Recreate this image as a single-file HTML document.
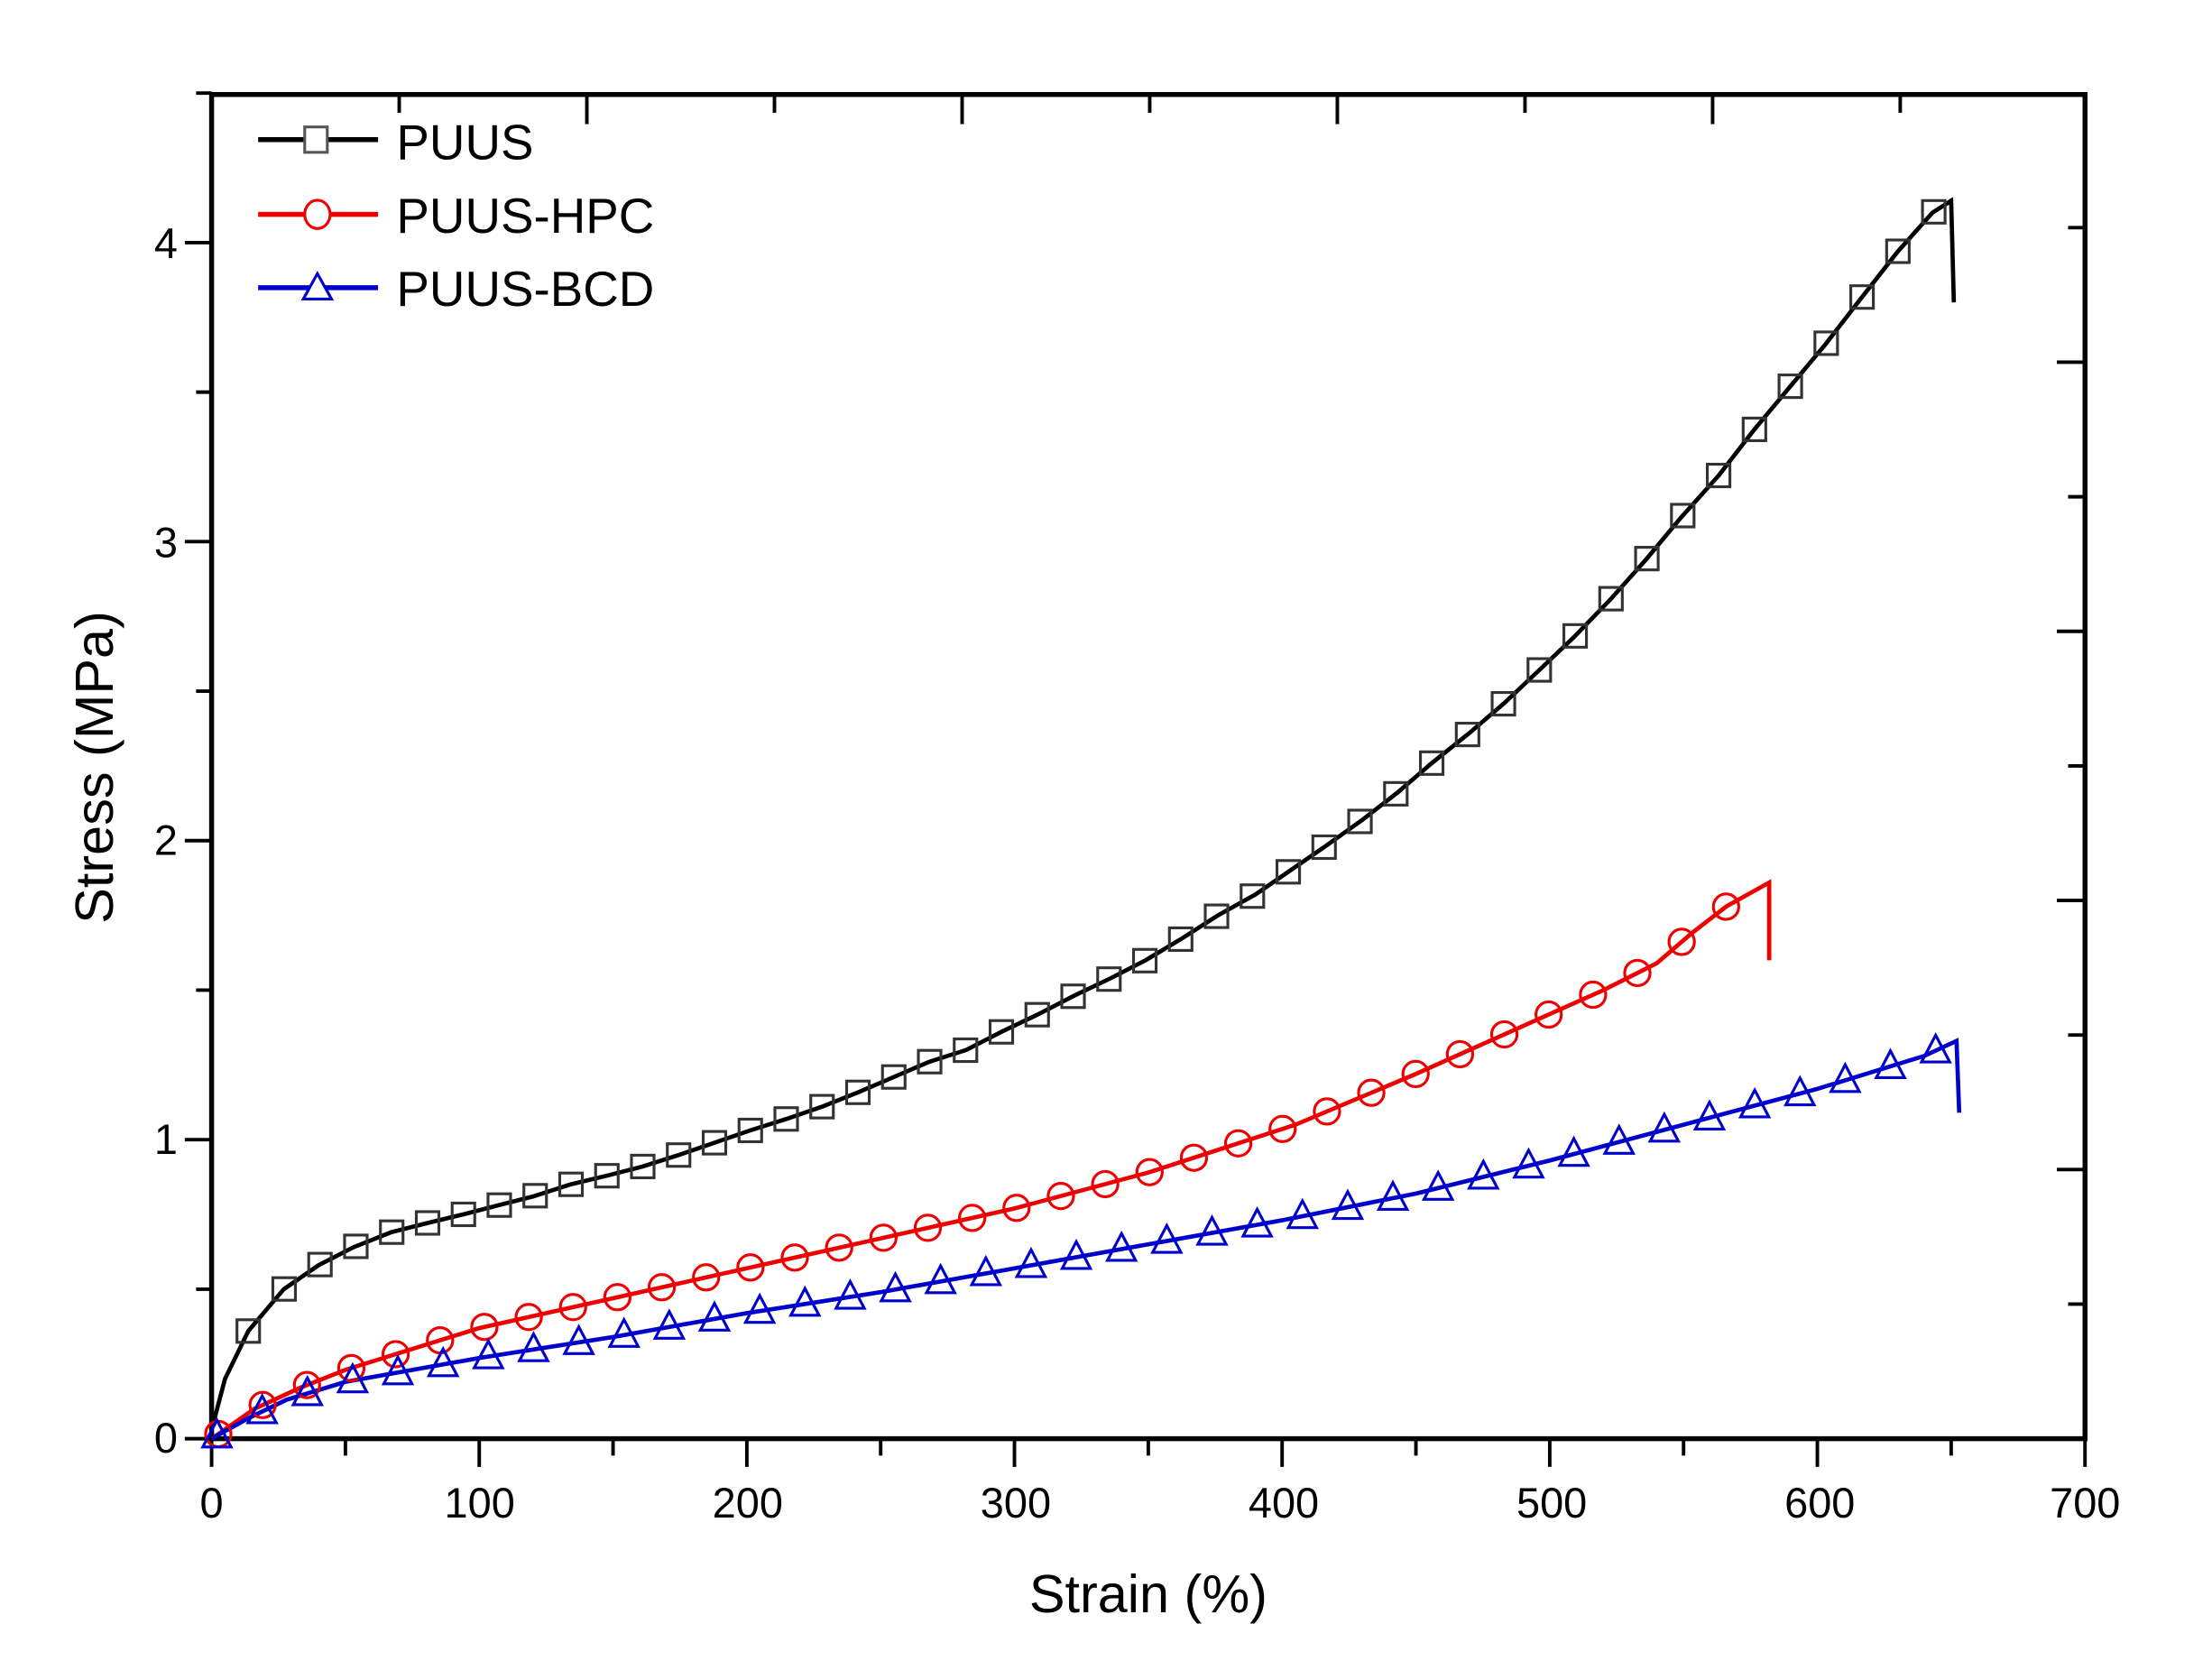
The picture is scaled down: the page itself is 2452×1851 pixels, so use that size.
<!DOCTYPE html>
<html><head><meta charset="utf-8"><style>
html,body{margin:0;padding:0;background:#fff;}
svg{display:block;}
text{font-family:"Liberation Sans",sans-serif;fill:#000;}
</style></head><body>
<svg id="s" width="2452" height="1851" viewBox="0 0 1568 1184" preserveAspectRatio="none" xmlns="http://www.w3.org/2000/svg">
<rect width="1568" height="1184" fill="#fff"/>
<g id="ax" stroke="#000" stroke-width="3.5" fill="none">
<rect x="150" y="67" width="1328" height="953"/>
</g>
<g id="ticks" stroke="#000" stroke-width="2.5"></g>
<g font-size="30" text-anchor="middle">
<text x="150" y="1076">0</text><text x="340" y="1076">100</text><text x="530" y="1076">200</text><text x="720" y="1076">300</text><text x="910" y="1076">400</text><text x="1100" y="1076">500</text><text x="1290" y="1076">600</text><text x="1478" y="1076">700</text>
</g>
<g font-size="30" text-anchor="end">
<text x="126" y="1030">0</text><text x="126" y="818">1</text><text x="126" y="606">2</text><text x="126" y="395">3</text><text x="126" y="183">4</text>
</g>
<text x="814" y="1143" font-size="38" text-anchor="middle">Strain (%)</text>
<text transform="translate(80,544) rotate(-90)" font-size="38" text-anchor="middle">Stress (MPa)</text>
<g id="data"></g>
<g stroke-width="3.5">
<line x1="183" y1="99" x2="268" y2="99" stroke="#000"/><rect x="216" y="90" width="16" height="18" fill="#fff" stroke="#555" stroke-width="2"/>
<line x1="183" y1="152" x2="268" y2="152" stroke="#e00"/><ellipse cx="225" cy="152" rx="9" ry="10" fill="#fff" stroke="#e00" stroke-width="2"/>
<line x1="183" y1="204" x2="268" y2="204" stroke="#00c"/><polygon points="225,194 215,212 235,212" fill="#fff" stroke="#00c" stroke-width="2"/>
</g>
<g font-size="35"><text x="281" y="113">PUUS</text><text x="281" y="165">PUUS-HPC</text><text x="281" y="217">PUUS-BCD</text></g>
</svg>
<script>
var X=function(s){return 150+s*1.8971;},Y=function(v){return 1020-v*212;};
var t=document.getElementById('ticks'),h='';
for(var s=0;s<=700;s+=50){var x=X(s);h+='<line x1="'+x+'" y1="1020" x2="'+x+'" y2="'+(s%100==0?1040:1032)+'"/>';}
for(var v=0;v<=4.5;v+=0.5){var y=Y(v);h+='<line x1="150" y1="'+y+'" x2="'+(v%1==0?131:139)+'" y2="'+y+'"/>';}
for(var k=1;k<10;k++){var x=150+133*k;h+='<line x1="'+x+'" y1="67" x2="'+x+'" y2="'+(k%2==0?88:80)+'"/>';}
for(var k=1;k<10;k++){var y=1020-95.4*k;h+='<line x1="1478" y1="'+y+'" x2="'+(k%2==0?1458:1466)+'" y2="'+y+'"/>';}
t.innerHTML=h;
function interp(p,s){for(var i=1;i<p.length;i++){if(s<=p[i][0]){var a=p[i-1],b=p[i];return a[1]+(b[1]-a[1])*(s-a[0])/(b[0]-a[0]);}}return p[p.length-1][1];}
var P=[[0,0.03],[5,0.2],[13.7,0.36],[27,0.5],[40,0.58],[53,0.64],[67,0.69],[80,0.72],[94,0.75],[107,0.78],[120,0.81],[134,0.85],[148,0.88],[161,0.91],[175,0.95],[188,0.99],[201,1.03],[215,1.07],[228,1.11],[242,1.16],[255,1.21],[268,1.26],[282,1.30],[295,1.36],[309,1.42],[322,1.48],[336,1.54],[349,1.60],[362,1.67],[376,1.75],[390,1.82],[403,1.90],[416,1.98],[430,2.07],[443,2.16],[456,2.26],[470,2.36],[483,2.46],[496,2.57],[509,2.68],[523,2.81],[536,2.94],[549,3.08],[563,3.22],[576,3.37],[589,3.51],[603,3.66],[616,3.81],[630,3.97],[643,4.10],[650,4.14]];
var H=[[0,0],[16,0.1],[33,0.17],[50,0.23],[100,0.37],[150,0.47],[200,0.57],[250,0.67],[300,0.77],[350,0.89],[405,1.05],[450,1.22],[500,1.42],[520,1.50],[540,1.59],[553,1.69],[566,1.78],[582,1.86]];
var B=[[0,0],[14,0.07],[28,0.13],[50,0.19],[100,0.27],[150,0.34],[200,0.42],[250,0.49],[300,0.57],[350,0.65],[400,0.73],[450,0.82],[500,0.93],[550,1.05],[600,1.17],[640,1.28],[652,1.33]];
function path(p,endS,dropV){var d='M';for(var i=0;i<p.length;i++)d+=X(p[i][0]).toFixed(1)+','+Y(p[i][1]).toFixed(1)+' ';d+='L'+X(endS).toFixed(1)+','+Y(dropV).toFixed(1);return d;}
var g='';
g+='<path d="'+path(P,651,3.8)+'" fill="none" stroke="#000" stroke-width="3"/>';
g+='<path d="'+path(H,582,1.6)+'" fill="none" stroke="#e00" stroke-width="3"/>';
g+='<path d="'+path(B,653,1.09)+'" fill="none" stroke="#00c" stroke-width="3"/>';
for(var s=2.5;s<=567;s+=16.57){var x=X(s),y=Y(interp(H,s));g+='<circle cx="'+x+'" cy="'+y+'" r="9" fill="none" stroke="#e00" stroke-width="2"/>';}
for(var s=2;s<=646;s+=16.9){var x=X(s),y=Y(interp(B,s));g+='<polygon points="'+x+','+(y-11)+' '+(x-10)+','+(y+8)+' '+(x+10)+','+(y+8)+'" fill="none" stroke="#00c" stroke-width="2"/>';}
for(var s=13.7;s<=644;s+=13.4){var x=X(s),y=Y(interp(P,s));g+='<rect x="'+(x-8)+'" y="'+(y-8)+'" width="16" height="16" fill="none" stroke="#333" stroke-width="2"/>';}
document.getElementById('data').innerHTML=g;
</script>
</body></html>
